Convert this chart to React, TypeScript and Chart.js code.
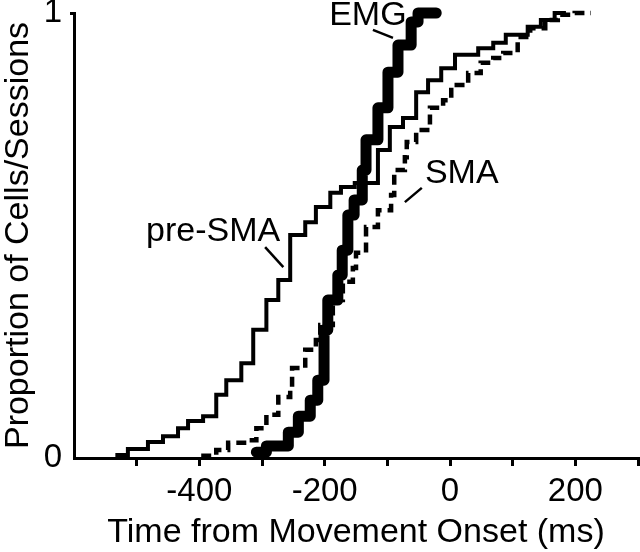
import React, { useEffect, useRef } from 'react';
import { Chart, registerables } from 'chart.js';

Chart.register(...registerables);

const FONT = '"Liberation Sans", Arial, Helvetica, sans-serif';

// pre-SMA cumulative distribution (ms, proportion)
const preSmaX = [-534, -514, -482, -458, -434, -418, -394, -373, -357, -333, -314, -293, -274, -255, -231, -214, -191, -174, -152, -115, -96, -75, -54, -35, -14, 8, 45, 69, 89, 124, 145, 167, 185];
const preSmaY = [0.007, 0.020, 0.036, 0.049, 0.067, 0.083, 0.094, 0.142, 0.175, 0.213, 0.288, 0.355, 0.400, 0.501, 0.530, 0.564, 0.596, 0.609, 0.618, 0.692, 0.744, 0.764, 0.822, 0.849, 0.876, 0.906, 0.921, 0.933, 0.951, 0.969, 0.984, 1.0, 1.0];

// SMA cumulative distribution
const smaX = [-397, -373, -354, -322, -309, -293, -274, -255, -252, -231, -214, -207, -187, -171, -155, -150, -134, -115, -94, -89, -72, -69, -54, -32, -11, 2, 29, 49, 69, 85, 108, 128, 152, 172, 199, 225];
const smaY = [0.005, 0.018, 0.034, 0.040, 0.067, 0.097, 0.137, 0.160, 0.202, 0.243, 0.265, 0.299, 0.355, 0.396, 0.427, 0.461, 0.519, 0.557, 0.591, 0.647, 0.676, 0.710, 0.737, 0.787, 0.804, 0.838, 0.865, 0.888, 0.899, 0.910, 0.946, 0.966, 0.984, 0.996, 1.0, 1.0];

// EMG cumulative distribution
const emgX = [-309, -293, -258, -242, -223, -211, -201, -195, -179, -172, -163, -153, -140, -134, -115, -99, -83, -62, -51, -22];
const emgY = [0.013, 0.027, 0.058, 0.094, 0.130, 0.175, 0.288, 0.355, 0.411, 0.467, 0.546, 0.580, 0.647, 0.715, 0.787, 0.867, 0.928, 0.980, 1.0, 1.0];

// axis ticks
const xTickValues = [-500, -400, -300, -200, -100, 0, 100, 200, 300];
const xTickLabels = [-400, -200, 0, 200];
const yTickValues = [0, 1];

// curve labels with leader lines (data coordinates)
const curveLabels = [
  { text: 'EMG', x: -131, y: 0.973, align: 'center', x1: -123, y1: 0.962, x2: -91, y2: 0.944 },
  { text: 'pre-SMA', x: -271, y: 0.488, align: 'right', x1: -295, y1: 0.474, x2: -266, y2: 0.429 },
  { text: 'SMA', x: -40, y: 0.618, align: 'left', x1: -72, y1: 0.575, x2: -45, y2: 0.607 },
];

const labelPlugin = {
  id: 'curveLabels',
  afterDatasetsDraw(chart: any) {
    const { ctx, scales } = chart;
    const xs = scales.x;
    const ys = scales.y;
    ctx.save();
    ctx.fillStyle = '#000';
    ctx.strokeStyle = '#000';
    ctx.lineWidth = 2.5;
    ctx.font = `34px ${FONT}`;
    ctx.textBaseline = 'alphabetic';
    for (const a of curveLabels) {
      ctx.textAlign = a.align;
      ctx.fillText(a.text, xs.getPixelForValue(a.x), ys.getPixelForValue(a.y));
      ctx.beginPath();
      ctx.moveTo(xs.getPixelForValue(a.x1), ys.getPixelForValue(a.y1));
      ctx.lineTo(xs.getPixelForValue(a.x2), ys.getPixelForValue(a.y2));
      ctx.stroke();
    }
    ctx.restore();
  },
};

const toPts = (xs: number[], ys: number[]) => xs.map((x, i) => ({ x, y: ys[i] }));

export default function App() {
  const ref = useRef<HTMLCanvasElement>(null);
  useEffect(() => {
    document.body.style.margin = '0';
    const canvas = ref.current!;
    const chart = new Chart(canvas, {
      type: 'line',
      data: {
        datasets: [
          {
            label: 'pre-SMA',
            data: toPts(preSmaX, preSmaY),
            borderColor: '#000',
            borderWidth: 4,
            stepped: true,
            pointRadius: 0,
            fill: false,
            clip: false,
            borderJoinStyle: 'miter',
          },
          {
            label: 'SMA',
            data: toPts(smaX, smaY),
            borderColor: '#000',
            borderWidth: 4.5,
            borderDash: [10, 6],
            stepped: true,
            pointRadius: 0,
            fill: false,
            clip: false,
          },
          {
            label: 'EMG',
            data: toPts(emgX, emgY),
            borderColor: '#000',
            borderWidth: 11,
            stepped: true,
            pointRadius: 0,
            fill: false,
            clip: false,
            borderJoinStyle: 'round',
            borderCapStyle: 'round',
          },
        ],
      } as any,
      options: {
        responsive: false,
        animation: false,
        maintainAspectRatio: false,
        layout: { padding: { top: 13, right: 2, left: 0, bottom: 0 } },
        plugins: { legend: { display: false }, tooltip: { enabled: false } },
        scales: {
          x: {
            type: 'linear',
            min: -600,
            max: 300,
            afterBuildTicks: (s: any) => {
              s.ticks = xTickValues.map((v) => ({ value: v }));
            },
            ticks: {
              autoSkip: false,
              maxRotation: 0,
              color: '#000',
              font: { family: FONT, size: 33 },
              padding: 6,
              callback: (v: any) => (xTickLabels.includes(Number(v)) ? String(v) : ''),
            },
            grid: { display: true, drawOnChartArea: false, drawTicks: true, tickLength: 8, lineWidth: 3, color: '#000' },
            border: { display: true, width: 3, color: '#000' },
            title: {
              display: true,
              text: 'Time from Movement Onset (ms)',
              color: '#000',
              font: { family: FONT, size: 34, lineHeight: 1 },
              padding: { top: 0, bottom: 2 },
            },
            afterFit: (s: any) => {
              s.height = 94;
              s.paddingLeft = 0;
              s.paddingRight = 0;
            },
          },
          y: {
            type: 'linear',
            min: 0,
            max: 1,
            afterBuildTicks: (s: any) => {
              s.ticks = yTickValues.map((v) => ({ value: v }));
            },
            ticks: {
              color: '#000',
              font: { family: FONT, size: 33 },
              padding: 8,
              callback: (v: any) => String(v),
            },
            grid: {
              display: true,
              drawOnChartArea: false,
              drawTicks: true,
              tickLength: 4,
              lineWidth: 3,
              color: (c: any) => (c.tick && c.tick.value === 1 ? '#000' : 'rgba(0,0,0,0)'),
            },
            border: { display: true, width: 3, color: '#000' },
            title: {
              display: true,
              text: 'Proportion of Cells/Sessions',
              color: '#000',
              font: { family: FONT, size: 34, lineHeight: 1 },
              padding: { top: 2, bottom: 0 },
            },
            afterFit: (s: any) => {
              s.width = 74;
              s.paddingTop = 0;
              s.paddingBottom = 0;
            },
          },
        },
      } as any,
      plugins: [labelPlugin],
    });
    return () => chart.destroy();
  }, []);
  return <canvas ref={ref} width={640} height={552} style={{ display: 'block' }} />;
}
